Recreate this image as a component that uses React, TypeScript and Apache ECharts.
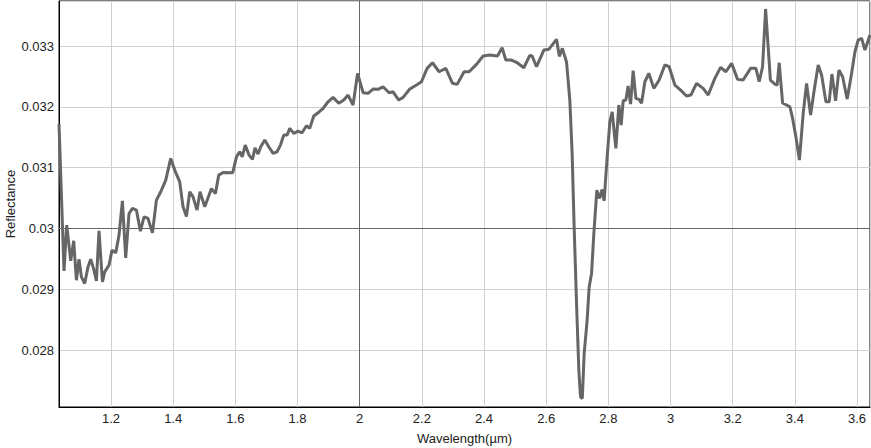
import React, { useEffect, useRef } from "react";
import * as echarts from "echarts";

const wavelength: number[] = [
  1.0327, 1.0488, 1.0575, 1.0704, 1.08, 1.0887, 1.0971, 1.1048, 1.1154, 1.126,
  1.1347, 1.1453, 1.1531, 1.1614, 1.1724, 1.1798, 1.1936, 1.2033, 1.2152, 1.2258,
  1.2367, 1.2473, 1.258, 1.2689, 1.2818, 1.2946, 1.3062, 1.3191, 1.3333, 1.3461,
  1.36, 1.3761, 1.3921, 1.405, 1.4211, 1.4317, 1.4427, 1.4533, 1.4639, 1.4768,
  1.4864, 1.5016, 1.5231, 1.536, 1.5466, 1.5605, 1.5917, 1.6036, 1.6142, 1.6222,
  1.6319, 1.6441, 1.6551, 1.6634, 1.6731, 1.6818, 1.6946, 1.7075, 1.7214, 1.7342,
  1.7452, 1.7558, 1.7664, 1.7751, 1.788, 1.8018, 1.8147, 1.8288, 1.8394, 1.8523,
  1.8661, 1.8823, 1.8983, 1.9144, 1.9328, 1.9489, 1.9627, 1.9788, 1.9933, 2.011,
  2.0271, 2.0431, 2.0592, 2.0753, 2.0946, 2.1075, 2.1258, 2.1397, 2.1613, 2.1828,
  2.1989, 2.2169, 2.2343, 2.2555, 2.2771, 2.2987, 2.3135, 2.336, 2.3521, 2.3759,
  2.3971, 2.4187, 2.4435, 2.4583, 2.4702, 2.4885, 2.5046, 2.5281, 2.5474, 2.5548,
  2.569, 2.5925, 2.6085, 2.6333, 2.6423, 2.652, 2.6655, 2.6761, 2.6835, 2.69,
  2.6977, 2.7051, 2.7105, 2.7163, 2.7222, 2.7318, 2.7383, 2.746, 2.7534, 2.763,
  2.7717, 2.78, 2.7865, 2.7962, 2.8049, 2.8123, 2.8242, 2.8338, 2.8412, 2.8477,
  2.8563, 2.8637, 2.8715, 2.8798, 2.8885, 2.8991, 2.9068, 2.9175, 2.9303, 2.9464,
  2.9635, 2.9818, 2.9957, 3.014, 3.0301, 3.0516, 3.0655, 3.0838, 3.1051, 3.1212,
  3.1427, 3.1611, 3.1781, 3.1965, 3.2158, 3.2338, 3.2576, 3.2747, 3.2853, 3.2962,
  3.3059, 3.3214, 3.3358, 3.3432, 3.3497, 3.3606, 3.3735, 3.3841, 3.3928, 3.4034,
  3.4147, 3.4269, 3.4378, 3.4507, 3.4623, 3.4752, 3.4861, 3.5, 3.5106, 3.5192,
  3.5311, 3.5418, 3.5537, 3.5685, 3.5826, 3.5933, 3.6039, 3.6148, 3.6255, 3.6418,
];

const reflectance: number[] = [
  0.031717, 0.029304, 0.030056, 0.029469, 0.029798, 0.029151, 0.029497, 0.029206, 0.029097, 0.02937,
  0.029497, 0.029316, 0.02914, 0.029962, 0.029123, 0.029288, 0.029398, 0.029645, 0.0296, 0.029892,
  0.030456, 0.029518, 0.030248, 0.030331, 0.030303, 0.029957, 0.030193, 0.030166, 0.029929, 0.030467,
  0.030604, 0.030796, 0.031153, 0.030961, 0.030768, 0.030357, 0.030196, 0.030604, 0.030521, 0.030303,
  0.030607, 0.030357, 0.030656, 0.030577, 0.030878, 0.030923, 0.030919, 0.031179, 0.031262, 0.031179,
  0.031372, 0.031207, 0.031137, 0.031327, 0.031224, 0.031344, 0.031454, 0.031344, 0.031235, 0.031262,
  0.031372, 0.031536, 0.031536, 0.031646, 0.031564, 0.031602, 0.031574, 0.031689, 0.031646, 0.031849,
  0.031903, 0.031975, 0.032084, 0.032156, 0.032058, 0.032112, 0.032194, 0.03203, 0.032551, 0.032232,
  0.032222, 0.032293, 0.032288, 0.032331, 0.032232, 0.032248, 0.032112, 0.032156, 0.032293, 0.032359,
  0.032413, 0.032633, 0.032725, 0.032577, 0.032633, 0.032387, 0.03237, 0.032577, 0.032577, 0.032699,
  0.032836, 0.032852, 0.032836, 0.032972, 0.03277, 0.03277, 0.032732, 0.032643, 0.032847, 0.032836,
  0.03266, 0.032934, 0.032946, 0.03311, 0.03283, 0.032962, 0.032737, 0.032112, 0.031235, 0.030028,
  0.028768, 0.027671, 0.027232, 0.027206, 0.027946, 0.028493, 0.029041, 0.029262, 0.02992, 0.030632,
  0.030495, 0.030643, 0.030456, 0.031179, 0.031755, 0.031919, 0.031317, 0.03203, 0.031701, 0.0321,
  0.032112, 0.032342, 0.032046, 0.032594, 0.03214, 0.032123, 0.032058, 0.032413, 0.032551, 0.032304,
  0.032441, 0.032688, 0.03266, 0.032359, 0.032288, 0.032178, 0.032194, 0.032387, 0.032304, 0.032194,
  0.032469, 0.03265, 0.032577, 0.032715, 0.032452, 0.032441, 0.032633, 0.032633, 0.032413, 0.03266,
  0.033609, 0.032441, 0.032375, 0.032359, 0.032725, 0.032063, 0.03203, 0.032002, 0.031811, 0.031508,
  0.031125, 0.031893, 0.032387, 0.031865, 0.032276, 0.032688, 0.032523, 0.032084, 0.032084, 0.032539,
  0.0321, 0.032605, 0.032495, 0.032128, 0.032551, 0.032906, 0.033099, 0.033127, 0.032934, 0.033181,
];

const xMin = 1.0327;
const xMax = 3.6418;
const yMin = 0.027067;
const yMax = 0.03374;
const xTickStep = 0.2;
const yTickStep = 0.001;
const xRefLine = 2;
const yRefLine = 0.03;
const xName = "Wavelength(µm)";
const yName = "Reflectance";

const FONT = "'Liberation Sans', Arial, Helvetica, sans-serif";
const FS = 13;

export default function App() {
  const ref = useRef<HTMLDivElement>(null);

  useEffect(() => {
    document.body.style.margin = "0";
    if (!ref.current) return;
    const chart = echarts.init(ref.current, null, { renderer: "svg" });
    const data = wavelength.map((w, i) => [w, reflectance[i]]);
    chart.setOption({
      animation: false,
      backgroundColor: "#fff",
      grid: {
        left: 59,
        top: 1,
        right: 1,
        bottom: 41,
        containLabel: false,
        outerBoundsMode: "none",
        show: true,
        borderColor: "#000",
        borderWidth: 1,
      },
      graphic: [
        {
          type: "text",
          x: 10,
          y: 204,
          rotation: Math.PI / 2,
          style: {
            text: yName,
            fontFamily: FONT,
            fontSize: FS,
            fill: "#222",
            align: "center",
            verticalAlign: "middle",
          },
        },
      ],
      xAxis: {
        type: "value",
        min: xMin,
        max: xMax,
        minInterval: xTickStep,
        maxInterval: xTickStep,
        name: xName,
        nameLocation: "middle",
        nameGap: 25,
        nameTextStyle: { fontFamily: FONT, fontSize: FS, color: "#222" },
        axisLine: { show: true, lineStyle: { color: "#000", width: 1 } },
        axisTick: { show: false },
        axisLabel: {
          showMinLabel: false,
          showMaxLabel: false,
          fontFamily: FONT,
          fontSize: FS,
          color: "#222",
          margin: 5,
        },
        splitLine: { show: true, lineStyle: { color: "#cfcfcf", width: 1 } },
      },
      yAxis: {
        type: "value",
        min: yMin,
        max: yMax,
        minInterval: yTickStep,
        maxInterval: yTickStep,
        axisLine: { show: true, lineStyle: { color: "#000", width: 1 } },
        axisTick: { show: false },
        axisLabel: {
          showMinLabel: false,
          showMaxLabel: false,
          fontFamily: FONT,
          fontSize: FS,
          color: "#222",
          margin: 5,
        },
        splitLine: { show: true, lineStyle: { color: "#cfcfcf", width: 1 } },
      },
      series: [
        {
          type: "line",
          data,
          showSymbol: false,
          symbol: "none",
          lineStyle: { color: "#666", width: 3 },
          markLine: {
            silent: true,
            symbol: "none",
            label: { show: false },
            lineStyle: { color: "#666", width: 1, type: "solid" },
            data: [{ xAxis: xRefLine }, { yAxis: yRefLine }],
            z: 1,
          },
          z: 3,
        },
      ],
    });
    return () => chart.dispose();
  }, []);

  return (
    <div
      ref={ref}
      style={{ position: "fixed", left: 0, top: 0, width: 871, height: 448 }}
    />
  );
}
